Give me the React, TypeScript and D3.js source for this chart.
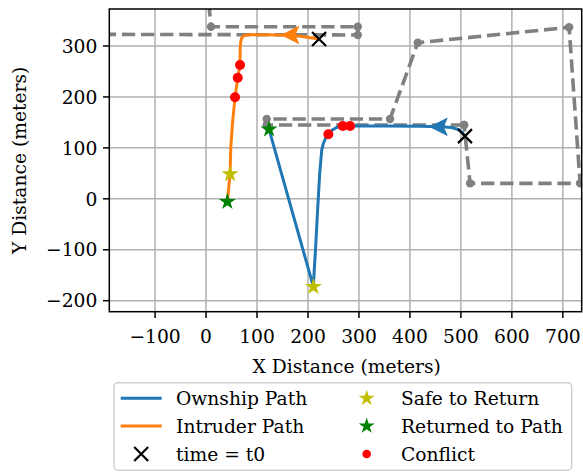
import React from 'react';
import { scaleLinear, line, symbol, symbolStar } from 'd3';

// planned (waypoint) paths, dashed gray
const intruderPlan: [number, number][] = [
    [-240, 322.9], [297.7, 321.6], [297.7, 337.9], [9.8, 337.9], [2, 420]
];
const ownshipPlan: [number, number][] = [
    [506.3, 144.9], [119, 144.9], [119, 156.7], [361, 156.7], [415.4, 306.4],
    [712.3, 336.7], [733.9, 30.4], [518, 30.4], [506.3, 144.9]
];

// flown paths
const ownshipPath: [number, number][] = [
    [508, 123], [503, 130], [495, 136], [482, 140], [460, 141.5], [420, 142.5],
    [350, 142.8], [300, 142.8], [282.6, 142.9], [268.2, 142.9], [256, 140], [247, 134.5],
    [240, 126.6], [234, 118], [230, 108], [227, 96], [223, 50], [219, -20],
    [215, -95], [212, -145], [210.6, -172.6], [123.6, 136.4]
];
const intruderPath: [number, number][] = [
    [221.7, 313.7], [205, 316], [185, 319], [160, 321.3], [120, 322], [85, 322.3],
    [75, 320.5], [70, 316], [68, 308], [67, 295], [66.7, 275], [66.7, 262.6],
    [62.2, 237.7], [56.9, 199.3], [52, 150], [48.5, 100], [47.1, 48.7], [41.8, -5.7]
];

const startPoints: [number, number][] = [[508, 123], [221.7, 313.7]];
const conflicts: [number, number][] = [
    [240, 126.6], [268.2, 142.9], [282.6, 142.9],
    [66.7, 262.6], [62.2, 237.7], [56.9, 199.3]
];
const safeToReturn: [number, number][] = [[210.6, -172.6], [47.1, 48.7]];
const returnedToPath: [number, number][] = [[123.6, 136.4], [41.8, -5.7]];
// arrow tips (pointing left)
const arrows: { at: [number, number], color: string }[] = [
    { at: [439.6, 141.3], color: '#1f77b4' },
    { at: [148.5, 321.6], color: '#ff7f0e' }
];

const xTicks = [-100, 0, 100, 200, 300, 400, 500, 600, 700];
const yTicks = [-200, -100, 0, 100, 200, 300];

const fmt = (v: number) => (v < 0 ? '\u2212' + Math.abs(v) : String(v));

const App = () => {
    const width = 583
    const height = 472
    const left = 109.3
    const right = 581.7
    const top = 9
    const bottom = 311.7
    const font = '"DejaVu Serif", serif'
    const fs = 18.7

    const x = scaleLinear().domain([-189.8, 737]).range([left, right])
    const y = scaleLinear().domain([-221.6, 372.6]).range([bottom, top])
    const path = line<[number, number]>().x(d => x(d[0])).y(d => y(d[1]))

    const star = symbol().type(symbolStar).size(90)()
    const starSmall = symbol().type(symbolStar).size(80)()

    const cross = (cx: number, cy: number, s: number, key: string) => (
        <path key={key} d={`M${cx - s},${cy - s}L${cx + s},${cy + s}M${cx - s},${cy + s}L${cx + s},${cy - s}`}
            stroke="black" strokeWidth={2.2} fill="none" />
    )

    const legendRows = [398.3, 426, 454]

    return (
        <svg width={width} height={height} style={{ position: 'absolute', left: 0, top: 0 }}>
            <defs>
                <clipPath id="plot-area">
                    <rect x={left} y={top} width={right - left} height={bottom - top} />
                </clipPath>
            </defs>
            <rect width={width} height={height} fill="white" />

            {/* grid */}
            {xTicks.map(t => (
                <line key={`gx${t}`} x1={x(t)} x2={x(t)} y1={top} y2={bottom} stroke="#b0b0b0" strokeWidth={1.5} />
            ))}
            {yTicks.map(t => (
                <line key={`gy${t}`} x1={left} x2={right} y1={y(t)} y2={y(t)} stroke="#b0b0b0" strokeWidth={1.5} />
            ))}

            <g clipPath="url(#plot-area)">
                {[intruderPlan, ownshipPlan].map((p, i) => (
                    <path key={`plan${i}`} d={path(p) || ''} fill="none" stroke="#808080"
                        strokeWidth={3.6} strokeDasharray="13.3 5.8" />
                ))}
                {[...intruderPlan, ...ownshipPlan].map((d, i) => (
                    <circle key={`wp${i}`} cx={x(d[0])} cy={y(d[1])} r={4.2} fill="#808080" />
                ))}

                <path d={path(ownshipPath) || ''} fill="none" stroke="#1f77b4" strokeWidth={3} strokeLinejoin="round" />
                <path d={path(intruderPath) || ''} fill="none" stroke="#ff7f0e" strokeWidth={3} strokeLinejoin="round" />

                {arrows.map((a, i) => {
                    const ax = x(a.at[0])
                    const ay = y(a.at[1])
                    return (
                        <path key={`ar${i}`} d={`M${ax},${ay}L${ax + 17},${ay - 8.5}L${ax + 13},${ay}L${ax + 17},${ay + 8.5}Z`}
                            fill={a.color} stroke={a.color} strokeWidth={1} strokeLinejoin="round" />
                    )
                })}

                {conflicts.map((d, i) => (
                    <circle key={`c${i}`} cx={x(d[0])} cy={y(d[1])} r={5} fill="red" />
                ))}
                {safeToReturn.map((d, i) => (
                    <path key={`s${i}`} d={star || ''} transform={`translate(${x(d[0])},${y(d[1])})`} fill="#bfbf00" />
                ))}
                {returnedToPath.map((d, i) => (
                    <path key={`r${i}`} d={star || ''} transform={`translate(${x(d[0])},${y(d[1])})`} fill="#008000" />
                ))}
                {startPoints.map((d, i) => cross(x(d[0]), y(d[1]), 7, `x${i}`))}
            </g>

            {/* spines */}
            <rect x={left} y={top} width={right - left} height={bottom - top} fill="none" stroke="black" strokeWidth={1.5} />

            {/* ticks and labels */}
            {xTicks.map(t => (
                <g key={`tx${t}`} transform={`translate(${x(t)},${bottom})`}>
                    <line y2={6.3} stroke="black" strokeWidth={1.5} />
                    <text y={31.8} textAnchor="middle" fontFamily={font} fontSize={fs}>{fmt(t)}</text>
                </g>
            ))}
            {yTicks.map(t => (
                <g key={`ty${t}`} transform={`translate(${left},${y(t)})`}>
                    <line x2={-6.3} stroke="black" strokeWidth={1.5} />
                    <text x={-12} y={6.7} textAnchor="end" fontFamily={font} fontSize={fs}>{fmt(t)}</text>
                </g>
            ))}
            <text x={346.7} y={372.5} textAnchor="middle" fontFamily={font} fontSize={fs}>X Distance (meters)</text>
            <text transform={`translate(25.5,${(top + bottom) / 2}) rotate(-90)`} textAnchor="middle" fontFamily={font} fontSize={fs}>Y Distance (meters)</text>

            {/* legend */}
            <rect x={114} y={382.7} width={457.7} height={87.5} rx={4} fill="white" stroke="#d0d0d0" strokeWidth={1.5} />
            <line x1={120.7} x2={161.7} y1={legendRows[0]} y2={legendRows[0]} stroke="#1f77b4" strokeWidth={3} />
            <line x1={120.7} x2={161.7} y1={legendRows[1]} y2={legendRows[1]} stroke="#ff7f0e" strokeWidth={3} />
            {cross(141.2, legendRows[2], 7, 'legx')}
            <path d={starSmall || ''} transform={`translate(366.7,${legendRows[0]})`} fill="#bfbf00" />
            <path d={starSmall || ''} transform={`translate(366.7,${legendRows[1]})`} fill="#008000" />
            <circle cx={366.7} cy={legendRows[2]} r={4.3} fill="red" />
            {['Ownship Path', 'Intruder Path', 'time = t0'].map((s, i) => (
                <text key={s} x={176} y={legendRows[i] + 6.7} fontFamily={font} fontSize={fs}>{s}</text>
            ))}
            {['Safe to Return', 'Returned to Path', 'Conflict'].map((s, i) => (
                <text key={s} x={401} y={legendRows[i] + 6.7} fontFamily={font} fontSize={fs}>{s}</text>
            ))}
        </svg>
    )
}

export default App
